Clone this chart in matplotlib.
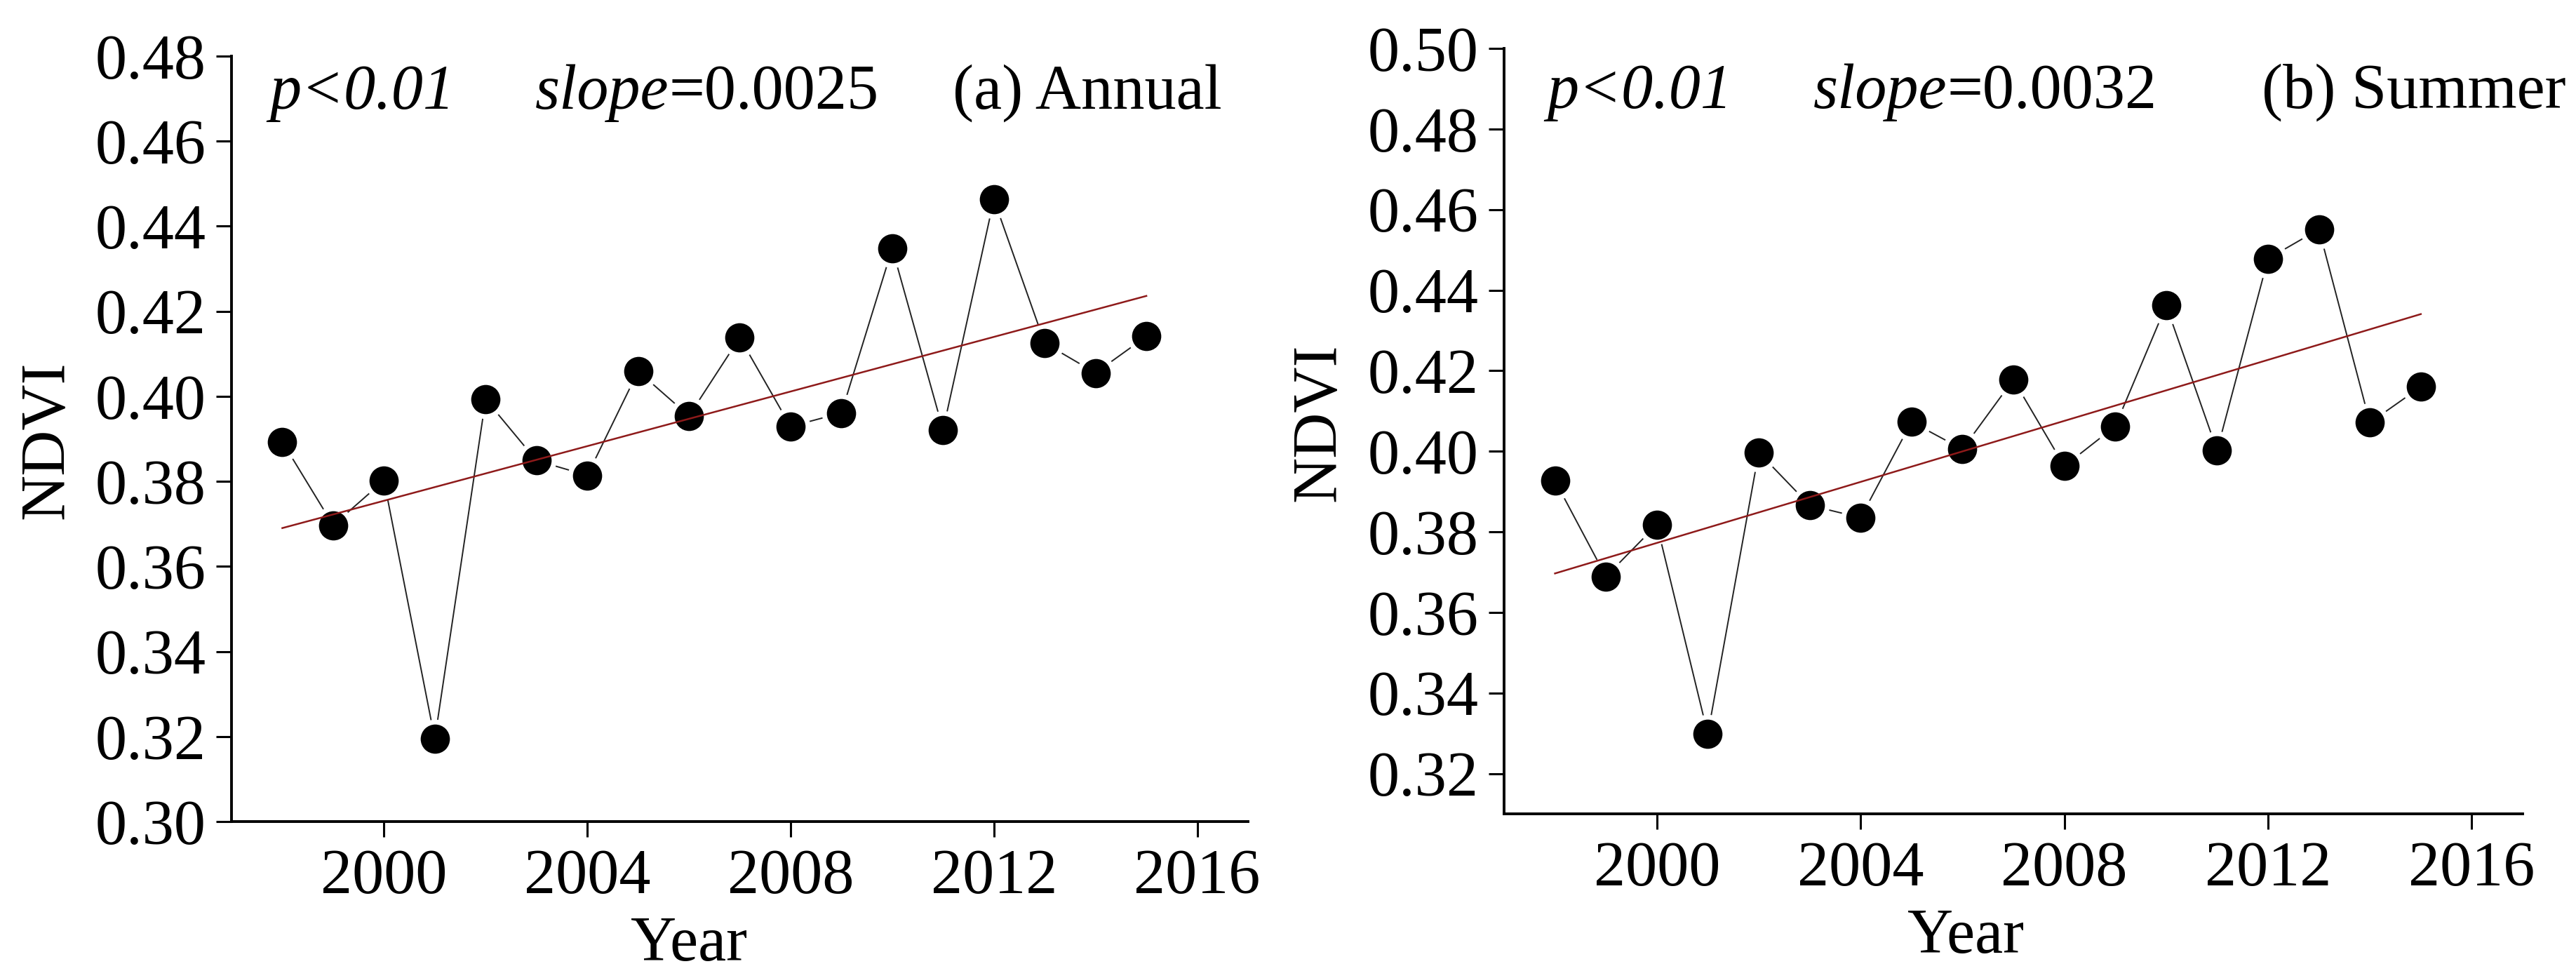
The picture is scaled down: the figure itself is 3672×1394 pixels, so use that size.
import numpy as np
import matplotlib
matplotlib.use("Agg")
import matplotlib.pyplot as plt

years = [1998, 1999, 2000, 2001, 2002, 2003, 2004, 2005, 2006,
         2007, 2008, 2009, 2010, 2011, 2012, 2013, 2014, 2015]
ndvi_annual = [0.3893, 0.3697, 0.3802, 0.3194, 0.3993, 0.3849, 0.3814, 0.4059, 0.3954,
               0.4138, 0.3929, 0.3961, 0.4348, 0.3921, 0.4463, 0.4125, 0.4055, 0.4141]
ndvi_summer = [0.3927, 0.3689, 0.3818, 0.3298, 0.3997, 0.3866, 0.3835, 0.4073, 0.4005,
               0.4178, 0.3963, 0.4062, 0.4362, 0.4002, 0.4478, 0.4551, 0.4071, 0.4160]
xticks = [2000, 2004, 2008, 2012, 2016]
yticks_a = [0.30, 0.32, 0.34, 0.36, 0.38, 0.40, 0.42, 0.44, 0.46, 0.48]
yticks_b = [0.32, 0.34, 0.36, 0.38, 0.40, 0.42, 0.44, 0.46, 0.48, 0.50]
slope_labels = ["0.0025", "0.0032"]
panel_labels = ["(a) Annual", "(b) Summer"]

W, H = 3672, 1394
DPI = 100
plt.rcParams['font.family'] = ['Liberation Serif', 'DejaVu Serif']
FS = 65

fig = plt.figure(figsize=(W / DPI, H / DPI), dpi=DPI)

def px_rect(l, r, t, b):
    return [l / W, 1 - b / H, (r - l) / W, (b - t) / H]

ax_a = fig.add_axes(px_rect(330, 1779, 80, 1171))
ax_b = fig.add_axes(px_rect(2144, 3596, 69, 1160))

def draw(ax, y, yticks, ylim):
    x = np.array(years, dtype=float)
    y = np.array(y)
    ax.plot(x, y, color='#222222', lw=1.4, zorder=1)
    ax.plot(x, y, ls='none', marker='o', ms=35, mfc='black', mec='white', mew=5, zorder=2)
    k, b0 = np.polyfit(x, y, 1)
    xx = np.array([x[0], x[-1]])
    ax.plot(xx, k * xx + b0, color='#8e1a1a', lw=1.8, zorder=3)
    ax.set_xlim(1997, 2017)
    ax.set_ylim(*ylim)
    ax.set_xticks(xticks)
    ax.set_yticks(yticks)
    ax.set_yticklabels(["%.2f" % v for v in yticks])
    for s in ['top', 'right']:
        ax.spines[s].set_visible(False)
    for s in ['left', 'bottom']:
        ax.spines[s].set_linewidth(2.8)
    ax.tick_params(direction='out', length=16, width=2.2, labelsize=FS, pad=10)
    ax.tick_params(axis='x', pad=12)

draw(ax_a, ndvi_annual, yticks_a, (0.30, 0.48))
draw(ax_b, ndvi_summer, yticks_b, (0.31, 0.50))

# axis labels
fig.text(982 / W, 1 - 1369 / H, "Year", fontsize=FS, ha='center', va='baseline')
fig.text(2802 / W, 1 - 1358 / H, "Year", fontsize=FS, ha='center', va='baseline')
fig.text(68 / W, 1 - 627 / H, "NDVI", fontsize=FS, rotation=90, ha='center', va='center')
fig.text(1881 / W, 1 - 602 / H, "NDVI", fontsize=FS, rotation=90, ha='center', va='center')

# annotations
fig.canvas.draw()
renderer = fig.canvas.get_renderer()
specs = [(384, 763, 1358, 155, 0), (2205, 2585, 3224, 154, 1)]
for px, sx, lx, base, i in specs:
    fig.text(px / W, 1 - base / H, "p<0.01", fontsize=FS, style='italic', va='baseline')
    t = fig.text(sx / W, 1 - base / H, "slope", fontsize=FS, style='italic', va='baseline')
    bb = t.get_window_extent(renderer)
    fig.text(bb.x1 / W, 1 - base / H, "=" + slope_labels[i], fontsize=FS, va='baseline')
    fig.text(lx / W, 1 - base / H, panel_labels[i], fontsize=FS, va='baseline')

fig.savefig("out.png", dpi=DPI)
